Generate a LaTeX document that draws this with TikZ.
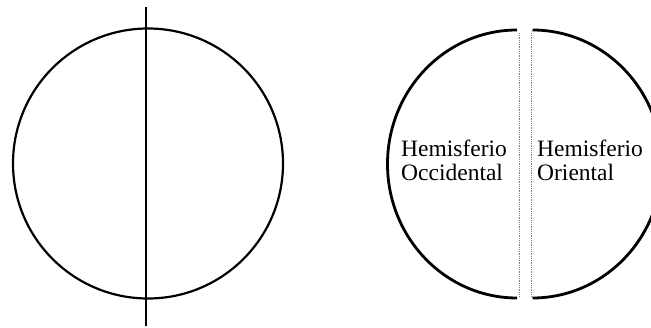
\documentclass[tikz,border=0pt]{standalone}
\usepackage{fontspec}
\setmainfont{Liberation Serif}
\usetikzlibrary{positioning}
\tikzset{
  rim/.style={line width=2.2pt},
  halfrim/.style={line width=2.8pt},
  seam/.style={gray, densely dotted, line width=0.8pt},
  hemi/.style={anchor=base west, inner sep=0pt, align=left, font=\fontsize{23.5}{23.5}\selectfont}}

\begin{document}
\begin{tikzpicture}[x=1pt, y=1pt]
\clip (0,0) rectangle (651,327);
\useasboundingbox (0,0) rectangle (651,327);
% globe with meridian
\draw[rim] (148,163.5) circle[radius=135];
\coordinate (mtop) at (145.5,320);
\coordinate (mbot) at (145.5,1);
\draw[line width=2pt] (mtop) -- (mbot);
% split globe
\draw[halfrim] (517,297) arc[start angle=90, end angle=270, x radius=129.5, y radius=134];
\draw[halfrim] (532.5,297) arc[start angle=90, end angle=-90, x radius=129.5, y radius=134];
\draw[seam] (519.5,294) -- (519.5,30);
\draw[seam] (531,294) -- (531,30);
\node[hemi] (occ) at (401,146.8) {Hemisferio\\Occidental};
\node[hemi] (ori) at (537,146.8) {Hemisferio\\Oriental};
\end{tikzpicture}
\end{document}
